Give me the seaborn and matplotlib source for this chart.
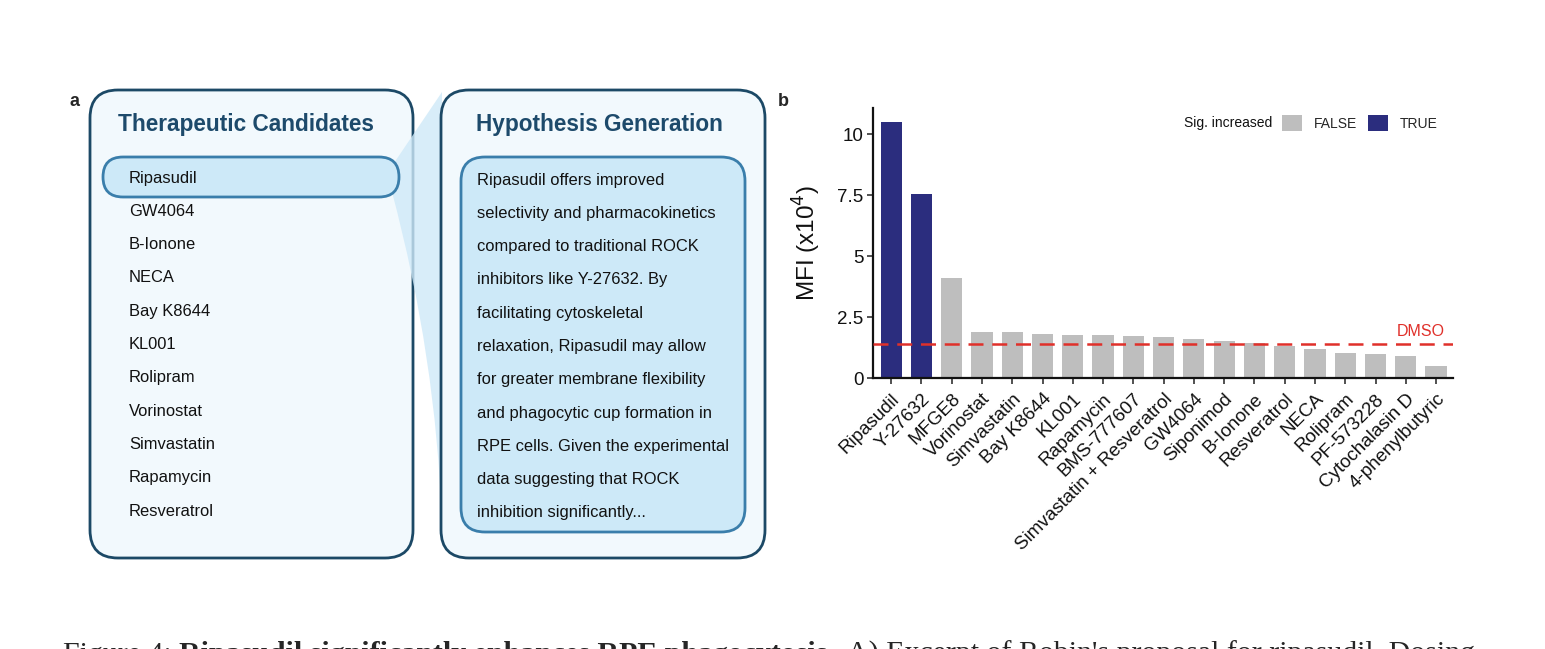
import numpy as np
import pandas as pd
import matplotlib.pyplot as plt
import seaborn as sns
from matplotlib.patches import FancyBboxPatch, PathPatch, Patch
from matplotlib.path import Path
from matplotlib.transforms import blended_transform_factory

# data
candidates = ['Ripasudil', 'GW4064', 'B-Ionone', 'NECA', 'Bay K8644', 'KL001',
              'Rolipram', 'Vorinostat', 'Simvastatin', 'Rapamycin', 'Resveratrol']
hypothesis_lines = ['Ripasudil offers improved',
                    'selectivity and pharmacokinetics',
                    'compared to traditional ROCK',
                    'inhibitors like Y-27632. By',
                    'facilitating cytoskeletal',
                    'relaxation, Ripasudil may allow',
                    'for greater membrane flexibility',
                    'and phagocytic cup formation in',
                    'RPE cells. Given the experimental',
                    'data suggesting that ROCK',
                    'inhibition significantly...']

drugs = ['Ripasudil', 'Y-27632', 'MFGE8', 'Vorinostat', 'Simvastatin', 'Bay K8644',
         'KL001', 'Rapamycin', 'BMS-777607', 'Simvastatin + Resveratrol', 'GW4064',
         'Siponimod', 'B-Ionone', 'Resveratrol', 'NECA', 'Rolipram', 'PF-573228',
         'Cytochalasin D', '4-phenylbutyric']
mfi = [10.5, 7.54, 4.09, 1.90, 1.87, 1.79, 1.78, 1.76, 1.71, 1.68, 1.58,
       1.50, 1.45, 1.31, 1.19, 1.04, 1.00, 0.92, 0.49]
sig = ['TRUE', 'TRUE'] + ['FALSE'] * 17
dmso = 1.39

palette = {'FALSE': '#bebebe', 'TRUE': '#2b2d7e'}
dark_edge = '#1c4966'
mid_edge = '#3a7eab'
title_col = '#1d4a6b'

sns.set_theme(style='ticks')
plt.rcParams['font.family'] = ['Liberation Sans', 'DejaVu Sans']

fig = plt.figure(figsize=(15.45, 6.49), dpi=100)

# ---- panel a (pixel coordinate layout axes) ----
axa = fig.add_axes([0, 0, 1, 1])
axa.set_xlim(0, 1545)
axa.set_ylim(649, 0)
axa.axis('off')

def rbox(x0, y0, x1, y1, r, fc, ec, lw, z):
    p = FancyBboxPatch((x0, y0), x1 - x0, y1 - y0,
                       boxstyle=f'round,pad=0,rounding_size={r}',
                       fc=fc, ec=ec, lw=lw, zorder=z)
    axa.add_patch(p)

rbox(90, 90, 413, 558, 28, '#f2f9fd', dark_edge, 2, 1)

# connecting band from the highlighted candidate to the hypothesis box
verts = [(392, 166), (442, 92), (442, 523), (436, 357), (392, 192), (392, 166)]
codes = [Path.MOVETO, Path.LINETO, Path.LINETO, Path.CURVE3, Path.CURVE3, Path.CLOSEPOLY]
axa.add_patch(PathPatch(Path(verts, codes), fc='#cfe9f8', ec='none', alpha=0.8, zorder=2))

rbox(441, 90, 765, 558, 28, '#f2f9fd', dark_edge, 2, 3)
rbox(103, 157, 399, 197, 20, '#cde9f8', mid_edge, 2, 4)
rbox(461, 157, 745, 532, 24, '#cde9f8', mid_edge, 2, 4)

axa.text(246, 125, 'Therapeutic Candidates', ha='center', va='center',
         fontsize=16.3, fontweight='bold', color=title_col, zorder=5)
axa.text(599, 125, 'Hypothesis Generation', ha='center', va='center',
         fontsize=16.3, fontweight='bold', color=title_col, zorder=5)

for i, name in enumerate(candidates):
    axa.text(129, 178 + i * 33.3, name, ha='left', va='center',
             fontsize=11.9, color='#111111', zorder=5)
for i, line in enumerate(hypothesis_lines):
    axa.text(477, 180 + i * 33.3, line, ha='left', va='center',
             fontsize=11.9, color='#111111', zorder=5)

axa.text(75, 102, 'a', ha='center', va='center', fontsize=13, fontweight='bold')
axa.text(783, 102, 'b', ha='center', va='center', fontsize=13, fontweight='bold')

# ---- panel b ----
df = pd.DataFrame({'drug': drugs, 'mfi': mfi, 'sig': sig})
ax = fig.add_axes([873 / 1545, 1 - 378 / 649, 580 / 1545, 270 / 649])
sns.barplot(data=df, x='drug', y='mfi', hue='sig', order=drugs,
            hue_order=['FALSE', 'TRUE'], palette=palette, dodge=False,
            width=0.7, linewidth=0, saturation=1, legend=False, ax=ax)
ax.set_xlim(-0.6, len(drugs) - 0.44)
ax.set_ylim(0, 11.07)
ax.set_yticks([0, 2.5, 5, 7.5, 10])
ax.set_yticklabels(['0', '2.5', '5', '7.5', '10'])
ax.set_xlabel('')
ax.set_ylabel('MFI (x10$^4$)', fontsize=17.5, color='#111111')
ax.yaxis.set_label_coords(-0.086, 0.5)
ax.tick_params(axis='both', length=4, width=1.2, color='#333333', pad=3,
               labelsize=13.5, labelcolor='#111111')
ax.tick_params(axis='x', pad=5)
plt.setp(ax.get_xticklabels(), rotation=45, ha='right', va='top', rotation_mode='anchor')
sns.despine(ax=ax)
for s in ['left', 'bottom']:
    ax.spines[s].set_linewidth(1.6)
    ax.spines[s].set_color('#111111')
ax.patch.set_alpha(0)

ax.axhline(dmso, color='#e0302a', lw=1.8, ls=(0, (6, 3.5)), zorder=5)
tr = blended_transform_factory(ax.transAxes, ax.transData)
ax.text(0.986, dmso + 0.22, 'DMSO', transform=tr, ha='right', va='bottom',
        fontsize=11.5, color='#e0302a')

# legend
handles = [Patch(fc=palette['FALSE'], ec='none'), Patch(fc=palette['TRUE'], ec='none')]
ax.legend(handles, ['FALSE', 'TRUE'], ncol=2, frameon=False, fontsize=10,
          loc='center right', bbox_to_anchor=(0.986, 0.944), borderpad=0,
          handlelength=1.45, handleheight=1.45, handletextpad=0.85, columnspacing=0.8)
ax.text(0.688, 0.944, 'Sig. increased', transform=ax.transAxes, ha='right',
        va='center', fontsize=10, color='#111111')

# ---- caption, cut off by the bottom edge as in the source ----
cap_y = 1 - 662 / 649
serif = ['Liberation Serif', 'DejaVu Serif']
t1 = fig.text(63 / 1545, cap_y, 'Figure 4: ', fontsize=21.5, family=serif, va='baseline')
fig.canvas.draw()
r = fig.canvas.get_renderer()
x1 = t1.get_window_extent(r).x1
t2 = fig.text(x1 / 1545, cap_y, 'Ripasudil significantly enhances RPE phagocytosis.',
              fontsize=21.5, family=serif, fontweight='bold', va='baseline')
x2 = t2.get_window_extent(r).x1
fig.text(x2 / 1545 + 0.008, cap_y, "A) Excerpt of Robin's proposal for ripasudil. Dosing",
         fontsize=21.5, family=serif, va='baseline')

fig.savefig('out.png', dpi=100)
